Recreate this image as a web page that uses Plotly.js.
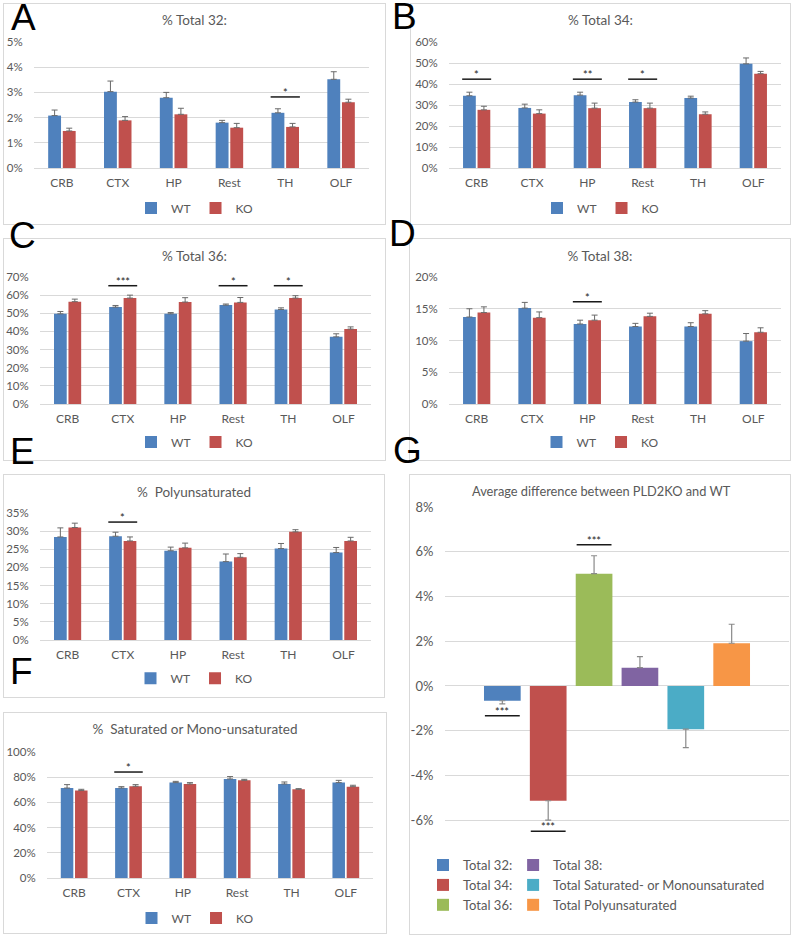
<!DOCTYPE html>
<html>
<head>
<meta charset="utf-8">
<script src="https://cdn.plot.ly/plotly-3.0.1.min.js"></script>
<style>
  html, body { margin: 0; padding: 0; background: #ffffff; }
  #wrap { position: relative; width: 792px; height: 935px; overflow: hidden; background: #ffffff; }
  .panel { position: absolute; border: 1px solid #d9d9d9; background: #ffffff; }
  .letter { position: absolute; font-family: "Liberation Sans", Arial, sans-serif; font-size: 37px; line-height: 27px; color: #000; z-index: 10; }
</style>
</head>
<body>
<div id="wrap">
  <div class="panel" id="pA" style="left:3px;top:3px;width:381px;height:220px"></div>
  <div class="panel" id="pB" style="left:410px;top:3px;width:379px;height:220px"></div>
  <div class="panel" id="pC" style="left:3px;top:238px;width:381px;height:221px"></div>
  <div class="panel" id="pD" style="left:409px;top:238px;width:380px;height:221px"></div>
  <div class="panel" id="pE" style="left:3px;top:474px;width:380px;height:222px"></div>
  <div class="panel" id="pF" style="left:3px;top:712px;width:382px;height:220px"></div>
  <div class="panel" id="pG" style="left:409px;top:474px;width:380px;height:459px"></div>
  <div class="letter" style="left:11px;top:4px">A</div>
  <div class="letter" style="left:392px;top:3px">B</div>
  <div class="letter" style="left:9px;top:222px">C</div>
  <div class="letter" style="left:389px;top:220px">D</div>
  <div class="letter" style="left:10px;top:438px">E</div>
  <div class="letter" style="left:10px;top:658px">F</div>
  <div class="letter" style="left:393px;top:437px">G</div>
</div>
<script>
// ---------------- DATA ----------------
const categories = ['CRB', 'CTX', 'HP', 'Rest', 'TH', 'OLF'];
const groupNames = ['WT', 'KO'];

// A: % Total 32
const total32WT    = [2.08, 3.03, 2.79, 1.80, 2.19, 3.52];
const total32WTErr = [0.22, 0.42, 0.21, 0.09, 0.16, 0.30];
const total32KO    = [1.47, 1.89, 2.13, 1.60, 1.63, 2.61];
const total32KOErr = [0.11, 0.15, 0.24, 0.17, 0.14, 0.12];
const sig32Cats = ['TH'];
const sig32Levels = [2.82];
const sig32Labels = ['*'];

// B: % Total 34
const total34WT    = [34.4, 28.6, 34.7, 31.4, 33.3, 49.6];
const total34WTErr = [1.7, 1.8, 1.4, 1.1, 0.9, 2.8];
const total34KO    = [27.7, 25.9, 28.5, 28.5, 25.6, 44.9];
const total34KOErr = [1.7, 1.8, 2.4, 2.4, 1.1, 1.1];
const sig34Cats = ['CRB', 'HP', 'Rest'];
const sig34Levels = [42.3, 42.3, 42.3];
const sig34Labels = ['*', '**', '*'];

// C: % Total 36
const total36WT    = [49.7, 53.4, 49.7, 54.5, 52.1, 37.0];
const total36WTErr = [1.3, 0.9, 0.7, 0.6, 0.9, 1.7];
const total36KO    = [56.4, 58.4, 56.2, 56.0, 58.4, 41.3];
const total36KOErr = [1.4, 1.6, 2.4, 2.7, 1.3, 1.2];
const sig36Cats = ['CTX', 'Rest', 'TH'];
const sig36Levels = [65.2, 65.2, 65.2];
const sig36Labels = ['***', '*', '*'];

// D: % Total 38
const total38WT    = [13.7, 15.1, 12.6, 12.2, 12.2, 9.9];
const total38WTErr = [1.3, 0.9, 0.6, 0.5, 0.6, 1.2];
const total38KO    = [14.4, 13.6, 13.2, 13.8, 14.2, 11.3];
const total38KOErr = [0.9, 0.9, 0.8, 0.5, 0.5, 0.7];
const sig38Cats = ['HP'];
const sig38Levels = [16.1];
const sig38Labels = ['*'];

// E: % Polyunsaturated
const polyWT    = [28.4, 28.6, 24.6, 21.6, 25.2, 24.1];
const polyWTErr = [2.5, 1.1, 1.0, 2.1, 1.4, 1.4];
const polyKO    = [31.0, 27.3, 25.4, 22.8, 29.8, 27.3];
const polyKOErr = [1.2, 1.1, 1.3, 1.0, 0.6, 1.0];
const sigPolyCats = ['CTX'];
const sigPolyLevels = [32.5];
const sigPolyLabels = ['*'];

// F: % Saturated or Mono-unsaturated
const satWT    = [71.4, 71.4, 75.7, 78.6, 74.6, 75.7];
const satWTErr = [2.7, 1.1, 1.0, 1.9, 1.6, 1.8];
const satKO    = [69.4, 72.8, 74.6, 77.5, 70.4, 72.5];
const satKOErr = [1.0, 1.3, 1.1, 0.8, 0.5, 1.1];
const sigSatCats = ['CTX'];
const sigSatLevels = [84.1];
const sigSatLabels = ['*'];

// G: Average difference between PLD2KO and WT
const diffSeries = ['Total 32:', 'Total 34:', 'Total 36:', 'Total 38:',
                    'Total Saturated- or Monounsaturated', 'Total Polyunsaturated'];
const diffValues = [-0.66, -5.13, 5.02, 0.82, -1.93, 1.91];
const diffErr    = [0.14, 0.87, 0.80, 0.49, 0.83, 0.85];
const diffSigSeries = ['Total 32:', 'Total 34:', 'Total 36:'];
const diffSigLevels = [-1.33, -6.49, 6.31];
const diffSigLabels = ['***', '***', '***'];
const diffTickVals = [-6, -4, -2, 0, 2, 4, 6, 8];
const diffTickText = ['-6%', '-4%', '-2%', '0%', '2%', '4%', '6%', '8%'];

// ---------------- STYLE ----------------
const FONT = 'Lato, "Open Sans", "DejaVu Sans", sans-serif';
const GREY = '#595959';
const GRID = '#d9d9d9';
const ERRC = '#6a6a6a';
const groupColors = ['#4F81BD', '#C0504D'];
const diffColors = ['#4F81BD', '#C0504D', '#9BBB59', '#8064A2', '#4BACC6', '#F79646'];
const BARGAP = 0.476, BARGROUPGAP = 0.12;
const config = { displayModeBar: false, staticPlot: true };

function grouped(divId, opt) {
  const el = document.getElementById(divId);
  const W = el.clientWidth, H = el.clientHeight;
  const series = [[opt.wt, opt.wtErr], [opt.ko, opt.koErr]];
  const traces = series.map((s, i) => ({
    type: 'bar', name: groupNames[i], x: categories, y: s[0],
    marker: { color: groupColors[i] },
    error_y: { type: 'data', symmetric: false, array: s[1], arrayminus: s[1].map(() => 0),
               color: ERRC, thickness: 1, width: 3 }
  }));
  const half = (1 - BARGAP) / 2;
  const shapes = opt.sigCats.map((c, i) => {
    const k = categories.indexOf(c);
    return { type: 'line', xref: 'x', yref: 'y', x0: k - half, x1: k + half,
             y0: opt.sigLevels[i], y1: opt.sigLevels[i], line: { color: '#1a1a1a', width: 1.5 } };
  });
  const annotations = opt.sigCats.map((c, i) => ({
    xref: 'x', yref: 'y', x: c, y: opt.sigLevels[i], text: opt.sigLabels[i],
    showarrow: false, yanchor: 'bottom', yshift: -4, font: { family: FONT, size: 11, color: '#1a1a1a' }
  }));
  const layout = {
    width: W, height: H,
    margin: opt.margin,
    paper_bgcolor: '#ffffff', plot_bgcolor: '#ffffff',
    font: { family: FONT, color: GREY },
    title: { text: opt.title, font: { family: FONT, size: 13.5, color: GREY },
             x: 0.5, xref: 'container', xanchor: 'center', y: opt.titleY, yref: 'container', yanchor: 'middle' },
    barmode: 'group', bargap: BARGAP, bargroupgap: BARGROUPGAP,
    xaxis: { type: 'category', showgrid: false, showline: false, zeroline: false,
             ticks: 'outside', ticklen: 4, tickcolor: 'rgba(0,0,0,0)',
             tickfont: { family: FONT, size: 12, color: GREY }, automargin: false, fixedrange: true },
    yaxis: { range: [0, opt.yMax], dtick: opt.dtick, tick0: 0, ticksuffix: '%',
             showgrid: true, gridcolor: GRID, gridwidth: 1, zeroline: true, zerolinecolor: GRID, zerolinewidth: 1,
             showline: false, ticks: 'outside', ticklen: 8, tickcolor: 'rgba(0,0,0,0)',
             tickfont: { family: FONT, size: 11.5, color: GREY }, automargin: false, fixedrange: true },
    showlegend: true,
    legend: { orientation: 'h', xref: 'container', yref: 'container', x: 0.5, xanchor: 'center',
              y: opt.legendY, yanchor: 'middle', font: { family: FONT, size: 12, color: GREY },
              bgcolor: 'rgba(0,0,0,0)', traceorder: 'normal' },
    shapes: shapes, annotations: annotations
  };
  Plotly.newPlot(divId, traces, layout, config);
}

grouped('pA', { title: '% Total 32:', wt: total32WT, wtErr: total32WTErr, ko: total32KO, koErr: total32KOErr,
  yMax: 5, dtick: 1, sigCats: sig32Cats, sigLevels: sig32Levels, sigLabels: sig32Labels,
  margin: { l: 29.5, r: 15.5, t: 38, b: 56, pad: 0 }, titleY: 0.927, legendY: 0.073 });

grouped('pB', { title: '% Total 34:', wt: total34WT, wtErr: total34WTErr, ko: total34KO, koErr: total34KOErr,
  yMax: 60, dtick: 10, sigCats: sig34Cats, sigLevels: sig34Levels, sigLabels: sig34Labels,
  margin: { l: 38.4, r: 9, t: 38.3, b: 56, pad: 0 }, titleY: 0.927, legendY: 0.073 });

grouped('pC', { title: '% Total 36:', wt: total36WT, wtErr: total36WTErr, ko: total36KO, koErr: total36KOErr,
  yMax: 70, dtick: 10, sigCats: sig36Cats, sigLevels: sig36Levels, sigLabels: sig36Labels,
  margin: { l: 35.5, r: 13.5, t: 38.3, b: 56, pad: 0 }, titleY: 0.923, legendY: 0.081 });

grouped('pD', { title: '% Total 38:', wt: total38WT, wtErr: total38WTErr, ko: total38KO, koErr: total38KOErr,
  yMax: 20, dtick: 5, sigCats: sig38Cats, sigLevels: sig38Levels, sigLabels: sig38Labels,
  margin: { l: 38.8, r: 9, t: 38.3, b: 56, pad: 0 }, titleY: 0.923, legendY: 0.081 });

grouped('pE', { title: '%  Polyunsaturated', wt: polyWT, wtErr: polyWTErr, ko: polyKO, koErr: polyKOErr,
  yMax: 35, dtick: 5, sigCats: sigPolyCats, sigLevels: sigPolyLevels, sigLabels: sigPolyLabels,
  margin: { l: 35.5, r: 12.5, t: 38.3, b: 57, pad: 0 }, titleY: 0.924, legendY: 0.085 });

grouped('pF', { title: '%  Saturated or Mono-unsaturated', wt: satWT, wtErr: satWTErr, ko: satKO, koErr: satKOErr,
  yMax: 100, dtick: 20, sigCats: sigSatCats, sigLevels: sigSatLevels, sigLabels: sigSatLabels,
  margin: { l: 42.8, r: 12.8, t: 38.7, b: 55.3, pad: 0 }, titleY: 0.927, legendY: 0.068 });

// ---------------- G ----------------
(function () {
  const el = document.getElementById('pG');
  const W = el.clientWidth, H = el.clientHeight;
  const gBargap = 0.2, gGroupgap = 0.2;
  const cat = ['diff'];
  const traces = diffSeries.map((name, i) => {
    const v = diffValues[i], e = diffErr[i];
    return {
      type: 'bar', name: name, x: cat, y: [v],
      marker: { color: diffColors[i] },
      legend: i < 3 ? 'legend' : 'legend2',
      error_y: { type: 'data', symmetric: false,
                 array: [v >= 0 ? e : 0], arrayminus: [v < 0 ? e : 0],
                 color: '#8a8a8a', thickness: 1.2, width: 3 }
    };
  });
  const n = diffSeries.length;
  const slot = (1 - gBargap) / n;
  const shapes = [], annotations = [];
  diffSigSeries.forEach((s, j) => {
    const i = diffSeries.indexOf(s);
    const c = -(1 - gBargap) / 2 + slot * (i + 0.5);
    const hw = slot * (1 - gGroupgap) / 2 * 0.95;
    shapes.push({ type: 'line', xref: 'x', yref: 'y', x0: c - hw, x1: c + hw,
                  y0: diffSigLevels[j], y1: diffSigLevels[j], line: { color: '#1a1a1a', width: 1.5 } });
    annotations.push({ xref: 'x', yref: 'y', x: c, y: diffSigLevels[j], text: diffSigLabels[j],
                       showarrow: false, yanchor: 'bottom', yshift: -4,
                       font: { family: FONT, size: 11, color: '#1a1a1a' } });
  });
  const legendBase = { orientation: 'v', xref: 'paper', yref: 'paper', xanchor: 'left', yanchor: 'top',
                       y: 0.017, font: { family: FONT, size: 13, color: GREY },
                       bgcolor: 'rgba(0,0,0,0)', traceorder: 'normal', tracegroupgap: 0 };
  const layout = {
    width: W, height: H,
    margin: { l: 35, r: 1, t: 32.3, b: 78.2, pad: 0 },
    paper_bgcolor: '#ffffff', plot_bgcolor: '#ffffff',
    font: { family: FONT, color: GREY },
    title: { text: 'Average difference between PLD2KO and WT', font: { family: FONT, size: 12.8, color: GREY },
             x: 0.503, xref: 'container', xanchor: 'center', y: 0.9635, yref: 'container', yanchor: 'middle' },
    barmode: 'group', bargap: gBargap, bargroupgap: gGroupgap,
    xaxis: { type: 'category', showticklabels: false, showgrid: false, zeroline: false, showline: false,
             ticks: '', automargin: false, fixedrange: true },
    yaxis: { range: [-7.6, 8], tickmode: 'array', tickvals: diffTickVals, ticktext: diffTickText,
             showgrid: true, gridcolor: GRID, gridwidth: 1, zeroline: true, zerolinecolor: GRID, zerolinewidth: 1,
             showline: false, ticks: 'outside', ticklen: 8, tickcolor: 'rgba(0,0,0,0)',
             tickfont: { family: FONT, size: 13, color: GREY }, automargin: false, fixedrange: true },
    showlegend: true,
    legend: Object.assign({}, legendBase, { x: -0.064 }),
    legend2: Object.assign({}, legendBase, { x: 0.198 }),
    shapes: shapes, annotations: annotations
  };
  Plotly.newPlot('pG', traces, layout, config);
})();
</script>
</body>
</html>
